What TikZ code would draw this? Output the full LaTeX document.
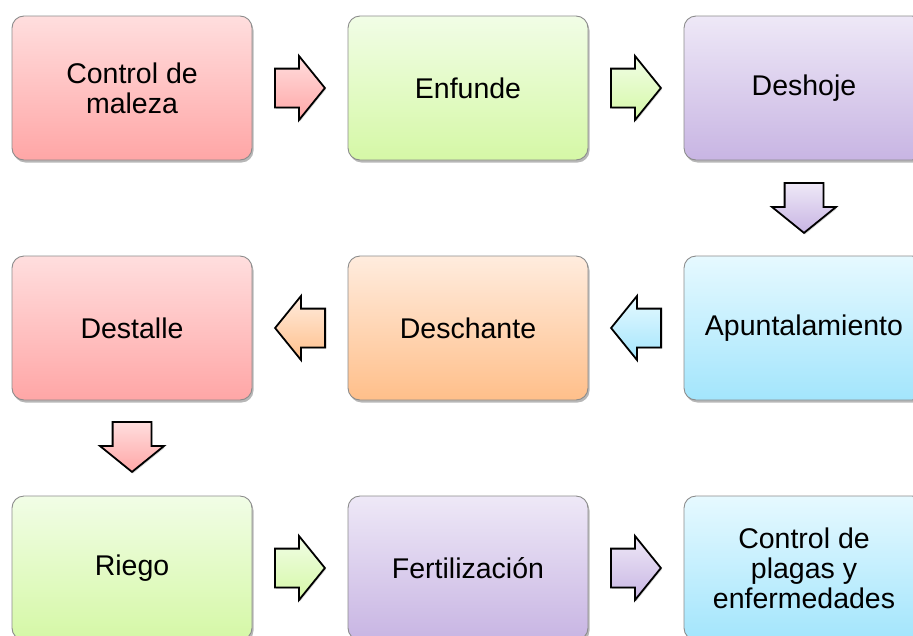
\documentclass[tikz,border=0pt]{standalone}
\usepackage{fontspec}
\setmainfont{Liberation Sans}
\usetikzlibrary{shapes.arrows,shadows,calc}
\definecolor{pkT}{HTML}{FFDEDE}\definecolor{pkB}{HTML}{FFA6A6}
\definecolor{grT}{HTML}{F1FDE6}\definecolor{grB}{HTML}{D5F8A6}
\definecolor{puT}{HTML}{EEE8F7}\definecolor{puB}{HTML}{C8B5E3}
\definecolor{orT}{HTML}{FFECDE}\definecolor{orB}{HTML}{FFBF8A}
\definecolor{blT}{HTML}{E6F9FF}\definecolor{blB}{HTML}{A3E5FC}
\tikzset{
  box/.style={draw=black!45, line width=0.9pt, rounded corners=12pt,
    minimum width=240pt, minimum height=144pt, inner sep=0pt,
    align=center, font=\fontsize{28.5}{30}\selectfont,
    drop shadow={shadow xshift=1.5pt, shadow yshift=-2.5pt, opacity=0.4, fill=black!70}},
  barrow/.style={single arrow, draw=black, line width=1.8pt, anchor=tail,
    minimum height=50pt, minimum width=62pt, single arrow head extend=12.5pt,
    single arrow tip angle=102, single arrow head indent=0pt,
    drop shadow={shadow xshift=1pt, shadow yshift=-1.5pt, opacity=0.25, fill=black!70}},
  harrow/.style={barrow, inner xsep=0pt, inner ysep=18.5pt},
  varrow/.style={barrow, inner xsep=18.5pt, inner ysep=0pt, shape border rotate=270},
  pink/.style={top color=pkT, bottom color=pkB},
  green/.style={top color=grT, bottom color=grB},
  purple/.style={top color=puT, bottom color=puB},
  orange/.style={top color=orT, bottom color=orB},
  blue/.style={top color=blT, bottom color=blB},
}
\begin{document}
\begin{tikzpicture}[x=1pt,y=-1pt]
\useasboundingbox (0,0) rectangle (913,635);
\clip (0,0) rectangle (913,635);
\node[box,pink]   (n1) at (132,88) {Control de\\maleza};
\node[box,green]  (n2) at (468,88) {Enfunde};
\node[box,purple] (n3) at (804,88) {Deshoje};
\node[box,blue]   (n4) at (804,328) {Apuntalamiento};
\node[box,orange] (n5) at (468,328) {Deschante};
\node[box,pink]   (n6) at (132,328) {Destalle};
\node[box,green]  (n7) at (132,568) {Riego};
\node[box,purple] (n8) at (468,568) {Fertilización};
\node[box,blue]   (n9) at (804,568) {Control de\\plagas y\\enfermedades};
\node[harrow,pink]   (a1) at ($(n1.east)!0.5!(n2.west)+(-26,0)$) {};
\node[harrow,green]  (a2) at ($(n2.east)!0.5!(n3.west)+(-26,0)$) {};
\node[varrow,purple] (a3) at ($(n3.south)!0.5!(n4.north)+(0,-26)$) {};
\node[harrow,blue,shape border rotate=180]   (a4) at ($(n4.west)!0.5!(n5.east)+(26,0)$) {};
\node[harrow,orange,shape border rotate=180] (a5) at ($(n5.west)!0.5!(n6.east)+(26,0)$) {};
\node[varrow,pink]   (a6) at ($(n6.south)!0.5!(n7.north)+(0,-27)$) {};
\node[harrow,green]  (a7) at ($(n7.east)!0.5!(n8.west)+(-26,0)$) {};
\node[harrow,purple] (a8) at ($(n8.east)!0.5!(n9.west)+(-26,0)$) {};
\end{tikzpicture}
\end{document}
